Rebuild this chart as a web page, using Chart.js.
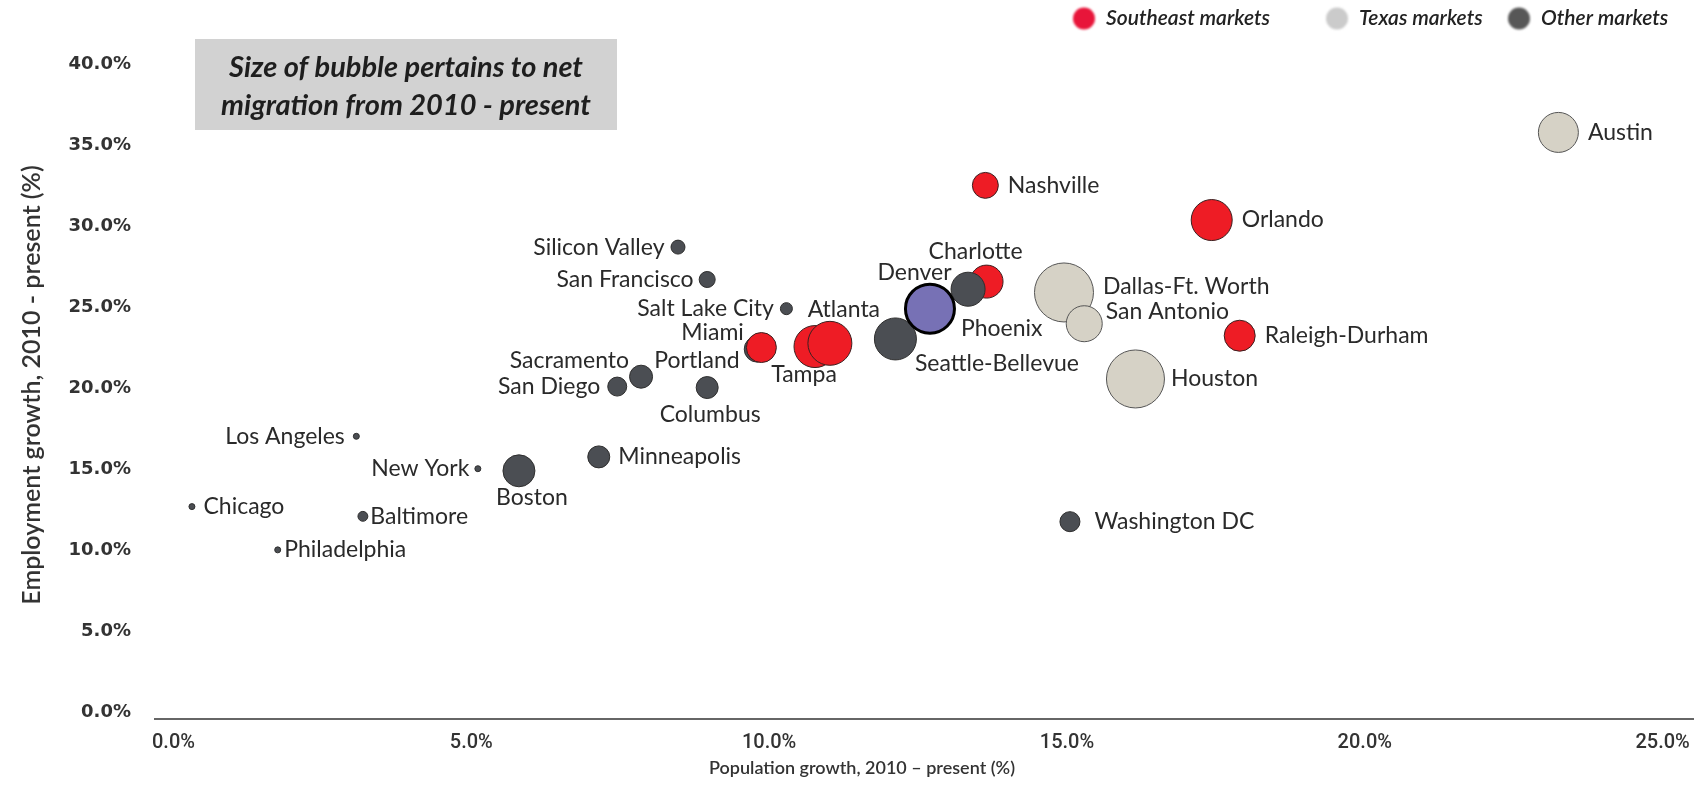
<!DOCTYPE html>
<html><head><meta charset="utf-8">
<script src="https://cdn.jsdelivr.net/npm/chart.js@4.4.1/dist/chart.umd.min.js"></script>
<style>html,body{margin:0;padding:0;background:#fff;}canvas{display:block}</style>
</head><body>
<canvas id="c" width="1702" height="786"></canvas>
<script>
// ---------- data ----------
const cities = ['Austin','Nashville','Orlando','Charlotte','Denver','Phoenix','Seattle-Bellevue','Dallas-Ft. Worth','San Antonio','Raleigh-Durham','Houston','Washington DC','Tampa','Atlanta','Miami','Portland','Salt Lake City','San Francisco','Silicon Valley','Columbus','Sacramento','San Diego','Minneapolis','Boston','New York','Los Angeles','Baltimore','Chicago','Philadelphia'];
const populationGrowth = [23.25,13.63,17.43,13.65,13.34,12.70,12.12,14.95,15.29,17.90,16.15,15.05,10.77,11.02,9.87,9.80,10.29,8.96,8.47,8.96,7.85,7.45,7.14,5.80,5.11,3.07,3.18,0.31,1.75];
const employmentGrowth = [35.78,32.51,30.37,26.57,26.10,24.90,23.03,25.90,23.97,23.23,20.56,11.75,22.56,22.76,22.50,22.40,24.90,26.70,28.70,20.03,20.70,20.09,15.75,14.89,15.02,17.02,12.08,12.68,10.01];
const netMigration = [311,131,327,212,225,467,343,677,252,187,654,78,343,376,175,131,28,50,38,94,103,70,94,199,7,7,19,7,7];
const marketGroup = ['Texas','Southeast','Southeast','Southeast','Other','Highlight','Other','Texas','Texas','Southeast','Texas','Other','Southeast','Southeast','Southeast','OtherBack','Other','Other','Other','Other','Other','Other','Other','Other','Other','Other','Other','Other','Other'];
const xTicks = [0,5,10,15,20,25];
const yTicks = [0,5,10,15,20,25,30,35,40];
const legendOrder = ['Southeast','Texas','Other'];
const legendNames = {Southeast:'Southeast markets', Texas:'Texas markets', Other:'Other markets'};
const xTitle = 'Population growth, 2010 \u2013 present (%)';
const yTitle = 'Employment growth, 2010 - present (%)';
const noteLines = ['Size of bubble pertains to net', 'migration from 2010 - present'];

// label placement (style): [textAlign, dx, dy]
const labelPlacement = [['left',9,0],['left',9,0],['left',9,0],['center',-11,-30],['right',1,-17],['left',5,20],['left',-2,25],['left',9,-6],['left',3,-12],['left',9,0],['left',6,0],['left',14,0],['center',-11,28],['center',14,-34],['right',-2,-15],['right',-4,11],['right',-6,0],['right',-5,0],['right',-6,0],['center',3,27],['right',0,-16],['right',-7,0],['left',8,0],['center',13,27],['right',-5,0],['right',-8,0],['left',2,0],['left',8,0],['left',3,0]];

// ---------- styles ----------
const RADIUS_SCALE = 1.134;
const groupStyle = {
  Highlight: {bg:'#7771b5', border:'#000000', bw:3, order:0},
  Other:     {bg:'#4b4e53', border:'#2e2e2e', bw:1, order:1},
  Southeast: {bg:'#ee1c25', border:'#3a2020', bw:1, order:2},
  Texas:     {bg:'#d6d2c6', border:'#555555', bw:1, order:3},
  OtherBack: {bg:'#4b4e53', border:'#2e2e2e', bw:1, order:9}
};
const legendColor = {Southeast:'#e8153a', Texas:'#cbcbcb', Other:'#575757'};
const legendMarkerX = [1084, 1337, 1519];

const datasets = Object.keys(groupStyle).map(g => {
  const st = groupStyle[g];
  const pts = [];
  cities.forEach((c, i) => {
    if (marketGroup[i] === g) pts.push({x: populationGrowth[i], y: employmentGrowth[i], r: RADIUS_SCALE*Math.sqrt(netMigration[i]), idx: i});
  });
  return {
    label: legendNames[g] || g,
    data: pts,
    backgroundColor: st.bg,
    borderColor: st.border,
    borderWidth: st.bw,
    hoverBorderWidth: st.bw,
    order: st.order,
    clip: false
  };
});

const labelPlugin = {
  id: 'cityLabels',
  afterDatasetsDraw(chart) {
    const ctx = chart.ctx;
    ctx.save();
    ctx.font = '23px Lato';
    ctx.fillStyle = '#2a2a2a';
    ctx.textBaseline = 'middle';
    chart.data.datasets.forEach((ds, di) => {
      const meta = chart.getDatasetMeta(di);
      meta.data.forEach((el, j) => {
        const i = ds.data[j].idx;
        const [align, dx, dy] = labelPlacement[i];
        const r = el.options.radius + el.options.borderWidth/2;
        let x = el.x + dx;
        if (align === 'left') x += r;
        if (align === 'right') x -= r;
        ctx.textAlign = align;
        ctx.fillText(cities[i], x, el.y + dy);
      });
    });
    ctx.restore();
  }
};

const decorPlugin = {
  id: 'decor',
  afterDraw(chart) {
    const ctx = chart.ctx;
    ctx.save();
    // note box
    ctx.fillStyle = '#d2d2d2';
    ctx.fillRect(195, 39, 422, 91);
    ctx.fillStyle = '#1e1e1e';
    ctx.font = 'italic bold 29px Lato';
    ctx.textAlign = 'center';
    ctx.textBaseline = 'middle';
    ctx.fillText(noteLines[0], 406, 68);
    ctx.fillText(noteLines[1], 406, 106);
    // axis titles
    ctx.fillStyle = '#333333';
    ctx.font = '600 18px Lato';
    ctx.fillText(xTitle, 862, 768);
    ctx.save();
    ctx.font = '600 25px Lato';
    ctx.translate(32, 385);
    ctx.rotate(-Math.PI/2);
    ctx.fillText(yTitle, 0, 0);
    ctx.restore();
    // legend
    ctx.font = 'italic 600 21px Lato';
    ctx.textAlign = 'left';
    legendOrder.forEach((g, k) => {
      const x = legendMarkerX[k];
      ctx.save();
      ctx.filter = 'blur(1.2px)';
      ctx.fillStyle = legendColor[g];
      ctx.beginPath();
      ctx.arc(x, 18.5, 11, 0, Math.PI*2);
      ctx.fill();
      ctx.restore();
      ctx.fillStyle = '#222';
      ctx.fillText(legendNames[g], x + 22, 18.5);
    });
    ctx.restore();
  }
};

const noPad = s => { s.paddingTop = 0; s.paddingBottom = 0; s.paddingLeft = 0; s.paddingRight = 0; };

new Chart(document.getElementById('c'), {
  type: 'bubble',
  data: {datasets},
  plugins: [labelPlugin, decorPlugin],
  options: {
    responsive: false,
    animation: false,
    devicePixelRatio: 1,
    layout: {autoPadding: false, padding: {top: 8, right: 9, left: 0, bottom: 0}},
    plugins: {
      tooltip: {enabled: false},
      legend: {display: false}
    },
    scales: {
      x: {
        type: 'linear', min: -0.31, max: 25.51,
        afterBuildTicks: s => { s.ticks = xTicks.map(v => ({value: v})); },
        afterFit: s => { s.height = 67.5; noPad(s); },
        grid: {display: false, drawTicks: false},
        border: {display: true, color: '#666', width: 2},
        ticks: {padding: 12, color: '#333', font: {family: 'Roboto', size: 20, weight: '500'}, callback: v => v.toFixed(1) + '%', maxRotation: 0}
      },
      y: {
        type: 'linear', min: -0.4, max: 43.46,
        afterBuildTicks: s => { s.ticks = yTicks.map(v => ({value: v})); },
        afterFit: s => { s.width = 155; noPad(s); },
        grid: {display: false, drawTicks: false},
        border: {display: false},
        ticks: {padding: 24, color: '#333', font: {family: 'DejaVu Sans', size: 18, weight: 'bold'}, callback: v => v.toFixed(1) + '%'}
      }
    }
  }
});
</script>
</body></html>
